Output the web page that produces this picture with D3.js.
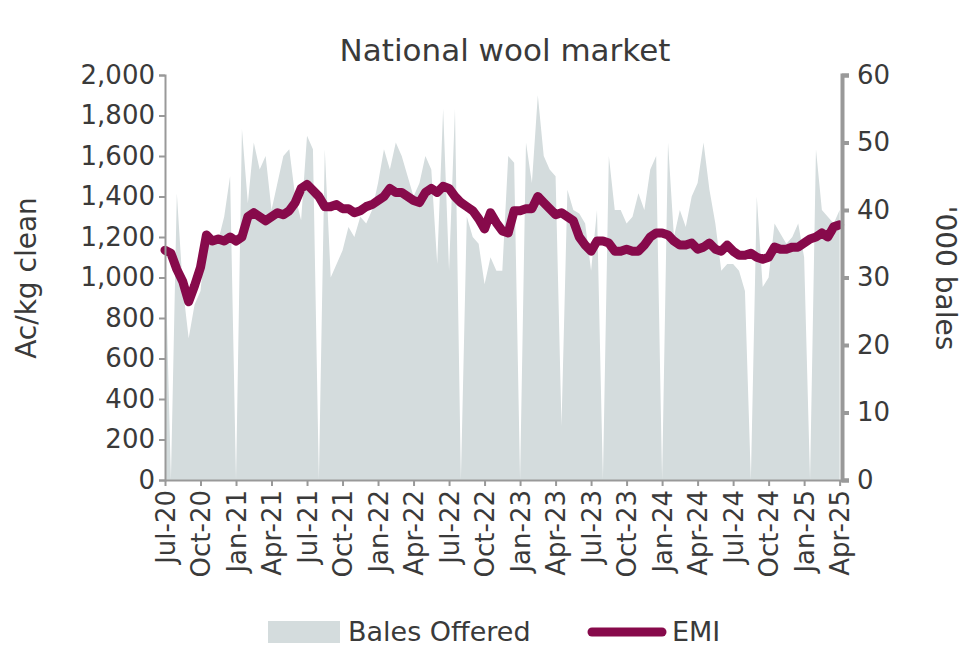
<!DOCTYPE html>
<html>
<head>
<meta charset="utf-8">
<script src="https://cdn.jsdelivr.net/npm/d3@7"></script>
<style>
  body { margin: 0; background: #fff; }
  text { font-family: "DejaVu Sans", sans-serif; fill: #3a3a3a; }
</style>
</head>
<body>
<svg id="chart" width="967" height="646"></svg>
<script>
// half-monthly readings, starting Jul-20
const emi = [1135,1120,1040,980,880,960,1050,1210,1180,1190,1180,1200,1180,1200,1300,1320,1300,1280,1300,1320,
  1310,1330,1370,1440,1460,1430,1400,1350,1350,1360,1340,1340,1320,1330,1350,1360,1380,1400,1440,1420,
  1420,1400,1380,1370,1420,1440,1420,1450,1440,1400,1370,1350,1330,1290,1240,1320,1270,1230,1220,1330,
  1330,1340,1340,1400,1370,1340,1310,1320,1300,1280,1200,1160,1130,1180,1180,1170,1130,1130,1140,1130,
  1130,1160,1200,1220,1220,1210,1180,1160,1160,1170,1140,1150,1170,1140,1130,1160,1130,1110,1110,1120,
  1100,1090,1100,1150,1140,1140,1150,1150,1170,1190,1200,1220,1200,1250,1260]
const bales = [35,0,42.5,28.6,21,26,28,37,36,35.5,39,45,0,52,41,50,46,48,40,44,
  48,49,42,38.5,51,49,0,49,30,32,34,37.5,36,39,38,40,44,49,46,50,
  48,45,42,44,48,46,32,55,31,55,0,39,36,35,29,33,31,31,48,47,
  0,50,44,57,48,46,45,8,43,40,39.5,38,31,40,0,48,40,40,38,39,
  42.5,40,46,48,0,50,36,40,37.5,42,44,50,43,38,31,32,32,31,28,0,
  42,28.6,30,38,36.5,35,36,38,33,0,49,40,39,38,40]
const tickLabels = ["Jul-20","Oct-20","Jan-21","Apr-21","Jul-21","Oct-21","Jan-22","Apr-22","Jul-22","Oct-22",
  "Jan-23","Apr-23","Jul-23","Oct-23","Jan-24","Apr-24","Jul-24","Oct-24","Jan-25","Apr-25"]
const leftTicks = d3.range(0, 2001, 200)
const rightTicks = d3.range(0, 61, 10)

const svg = d3.select("#chart")
const m = {left: 165, right: 842, top: 75, bottom: 480}

let x = d3.scaleLinear().domain([0, 57.2]).range([m.left, m.right])
let yL = d3.scaleLinear().domain([0, 2000]).range([m.bottom, m.top])
let yR = d3.scaleLinear().domain([0, 60]).range([m.bottom, m.top])

// bales area
svg.append("path")
  .datum(bales)
  .attr("fill", "#d4dcdd")
  .attr("d", d3.area().x((d, i) => x(i / 2)).y0(yR(0)).y1(d => yR(d)))

// EMI line
svg.append("path")
  .datum(emi)
  .attr("fill", "none")
  .attr("stroke", "#870a4b")
  .attr("stroke-width", 9)
  .attr("stroke-linejoin", "round")
  .attr("stroke-linecap", "round")
  .attr("d", d3.line().x((d, i) => x(i / 2)).y(d => yL(d)))

function styleAxis(g, w) {
  g.selectAll("path, line").attr("stroke", "#999").attr("stroke-width", w)
  g.selectAll("text").style("font-size", "26px").attr("fill", "#3a3a3a")
}

let left = svg.append("g").attr("transform", `translate(${m.left},0)`)
  .call(d3.axisLeft(yL).tickValues(leftTicks).tickFormat(d3.format(",")).tickSize(6).tickSizeOuter(6).tickPadding(4))
styleAxis(left, 2)

let right = svg.append("g").attr("transform", `translate(${m.right},0)`)
  .call(d3.axisRight(yR).tickValues(rightTicks).tickSize(7).tickSizeOuter(7).tickPadding(8))
styleAxis(right, 4)

let bottom = svg.append("g").attr("transform", `translate(0,${m.bottom})`)
  .call(d3.axisBottom(x).tickValues(d3.range(0, 58, 3)).tickFormat((d, i) => tickLabels[i]).tickSize(6).tickSizeOuter(0))
styleAxis(bottom, 2)
bottom.selectAll("text")
  .attr("transform", "rotate(-90)")
  .attr("text-anchor", "end")
  .attr("x", -10).attr("y", 0).attr("dy", "0.35em")

svg.append("text").attr("x", 505).attr("y", 61).attr("text-anchor", "middle")
  .style("font-size", "31px").text("National wool market")
svg.append("text").attr("transform", "translate(36,278) rotate(-90)").attr("text-anchor", "middle")
  .style("font-size", "28px").text("Ac/kg clean")
svg.append("text").attr("transform", "translate(936,278) rotate(90)").attr("text-anchor", "middle")
  .style("font-size", "28px").text("'000 bales")

// legend
let lg = svg.append("g").attr("transform", "translate(0,632)")
lg.append("rect").attr("x", 268).attr("y", -11).attr("width", 72).attr("height", 22).attr("fill", "#d4dcdd")
lg.append("text").attr("x", 348).attr("y", 0).attr("dy", "0.35em").style("font-size", "27px").text("Bales Offered")
lg.append("line").attr("x1", 592).attr("x2", 662).attr("y1", 0).attr("y2", 0)
  .attr("stroke", "#870a4b").attr("stroke-width", 9).attr("stroke-linecap", "round")
lg.append("text").attr("x", 672).attr("y", 0).attr("dy", "0.35em").style("font-size", "27px").text("EMI")
</script>
</body>
</html>
